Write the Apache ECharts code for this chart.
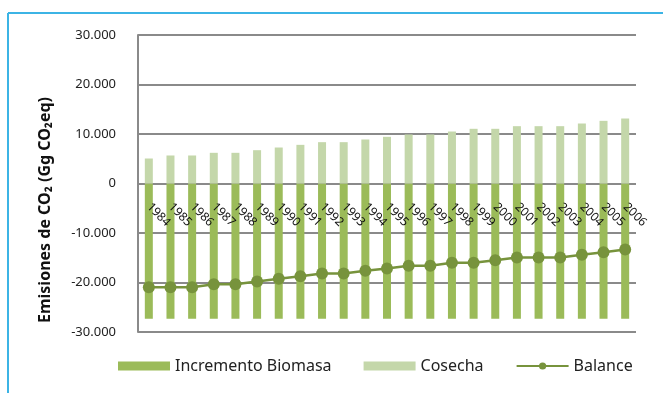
<!DOCTYPE html>
<html>
<head>
<meta charset="utf-8">
<script src="https://cdn.jsdelivr.net/npm/echarts@6/dist/echarts.min.js"></script>
<style>html,body{margin:0;padding:0;background:#fff;}#c{width:663px;height:393px;}</style>
</head>
<body>
<div id="c"></div>
<script>
const years = ['1984','1985','1986','1987','1988','1989','1990','1991','1992','1993','1994','1995','1996','1997','1998','1999','2000','2001','2002','2003','2004','2005','2006'];
const incrementoBiomasa = [-27300,-27300,-27300,-27300,-27300,-27300,-27300,-27300,-27300,-27300,-27300,-27300,-27300,-27300,-27300,-27300,-27300,-27300,-27300,-27300,-27300,-27300,-27300];
const cosecha = [5050,5660,5660,6200,6200,6730,7270,7810,8350,8350,8890,9430,9900,9900,10500,11050,11050,11580,11580,11580,12120,12660,13130];
const balance = [-20950,-20950,-20950,-20340,-20340,-19800,-19260,-18720,-18180,-18180,-17640,-17170,-16630,-16630,-16030,-16030,-15490,-14950,-14950,-14950,-14400,-13870,-13330];
const yTitle = 'Emisiones de CO\u2082 (Gg CO\u2082eq)';
const seriesNames = ['Incremento Biomasa','Cosecha','Balance'];

const FONT = '"Noto Sans", "Open Sans", sans-serif';
const chart = echarts.init(document.getElementById('c'), null, {renderer:'canvas'});
chart.setOption({
  animation: false,
  textStyle: {fontFamily: FONT},
  grid: {left: 138, right: 27, top: 35, bottom: 61, containLabel: false},
  legend: {
    bottom: 14, left: 113,
    itemWidth: 52, itemHeight: 9, itemGap: 32,
    textStyle: {fontSize: 16, color: '#222', fontFamily: FONT},
    data: [
      {name: seriesNames[0], icon: 'rect'},
      {name: seriesNames[1], icon: 'rect'},
      {name: seriesNames[2]}
    ]
  },
  graphic: [
    {type: 'line', shape: {x1: 8, y1: 13, x2: 663, y2: 13}, style: {stroke: '#3cb4e5', lineWidth: 2}},
    {type: 'line', shape: {x1: 8, y1: 13, x2: 8, y2: 393}, style: {stroke: '#3cb4e5', lineWidth: 2}},
    {type: 'text', x: 45, y: 210, rotation: Math.PI/2,
     style: {text: yTitle, font: 'bold 16px ' + FONT, fill: '#111', textAlign: 'center', textVerticalAlign: 'middle'}}
  ],
  xAxis: {
    type: 'category', data: years,
    position: 'bottom', offset: -148, z: 10,
    axisLine: {onZero: false, show: false},
    axisTick: {show: false},
    axisLabel: {rotate: -45, margin: 21, fontSize: 12, color: '#111', interval: 0, fontFamily: FONT},
    splitLine: {show: false}
  },
  yAxis: {
    type: 'value', min: -30000, max: 30000, interval: 10000,
    axisLine: {show: true, lineStyle: {color: '#8a8a8a', width: 2}},
    axisTick: {show: false},
    splitLine: {lineStyle: {color: '#8a8a8a', width: 2}},
    axisLabel: {
      fontSize: 13, color: '#222', margin: 22, fontFamily: FONT,
      formatter: v => v === 0 ? '0' : (v < 0 ? '-' : '') + Math.abs(v).toLocaleString('en-US').replace(/,/g, '.')
    }
  },
  series: [
    {name: seriesNames[0], type: 'bar', stack: 'a', data: incrementoBiomasa, barWidth: 8,
     itemStyle: {color: '#9bbb59'}},
    {name: seriesNames[1], type: 'bar', stack: 'a', data: cosecha, barWidth: 8,
     itemStyle: {color: '#c4d7aa'}},
    {name: seriesNames[2], type: 'line', data: balance, symbol: 'circle', symbolSize: 12,
     lineStyle: {color: '#77933c', width: 2.5}, itemStyle: {color: '#77933c'}, z: 5}
  ]
});
</script>
</body>
</html>
